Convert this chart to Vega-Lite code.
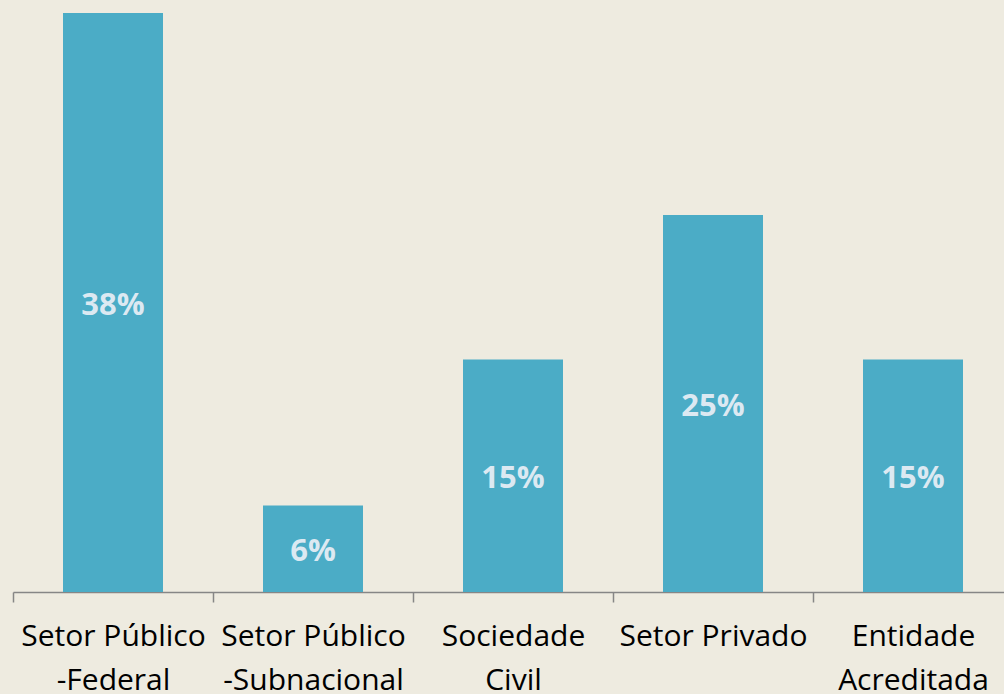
{
  "$schema": "https://vega.github.io/schema/vega-lite/v6.json",
  "width": 991,
  "height": 579,
  "autosize": "none",
  "padding": {"left": 13, "top": 13, "right": 0, "bottom": 102},
  "background": "#EEEBE0",
  "config": {"view": {"stroke": null}},
  "data": {"values": [
    {"category": "Setor Público\n-Federal", "value": 38.1, "label": "38%"},
    {"category": "Setor Público\n-Subnacional", "value": 5.7, "label": "6%"},
    {"category": "Sociedade\nCivil", "value": 15.3, "label": "15%"},
    {"category": "Setor Privado", "value": 24.8, "label": "25%"},
    {"category": "Entidade\nAcreditada", "value": 15.3, "label": "15%"}
  ]},
  "transform": [{"calculate": "datum.value / 2", "as": "mid"}],
  "encoding": {
    "x": {
      "field": "category", "type": "nominal", "sort": null,
      "scale": {"range": [0, 1000], "paddingInner": 0.5, "paddingOuter": 0.25},
      "axis": {
        "title": null, "labelAngle": 0, "tickOffset": -100, "labelOffset": 100,
        "domainColor": "#868686", "domainWidth": 1.5, "tickColor": "#868686", "tickWidth": 1.5, "tickSize": 10,
        "labelExpr": "split(datum.label, '\\n')",
        "labelFont": "Open Sans", "labelFontSize": 30, "labelColor": "#000000",
        "labelLineHeight": 44, "labelPadding": 19, "labelBaseline": "top", "labelOverlap": false, "labelLimit": 0
      }
    }
  },
  "layer": [
    {
      "mark": {"type": "bar", "color": "#4BACC6"},
      "encoding": {
        "y": {"field": "value", "type": "quantitative", "scale": {"domain": [0, 38.1], "nice": false}, "axis": null}
      }
    },
    {
      "mark": {"type": "text", "font": "Open Sans", "fontSize": 31, "fontWeight": "bold", "color": "#DCE9F2", "baseline": "middle", "dy": 3},
      "encoding": {
        "y": {"field": "mid", "type": "quantitative", "scale": {"domain": [0, 38.1], "nice": false}},
        "text": {"field": "label"}
      }
    }
  ]
}
